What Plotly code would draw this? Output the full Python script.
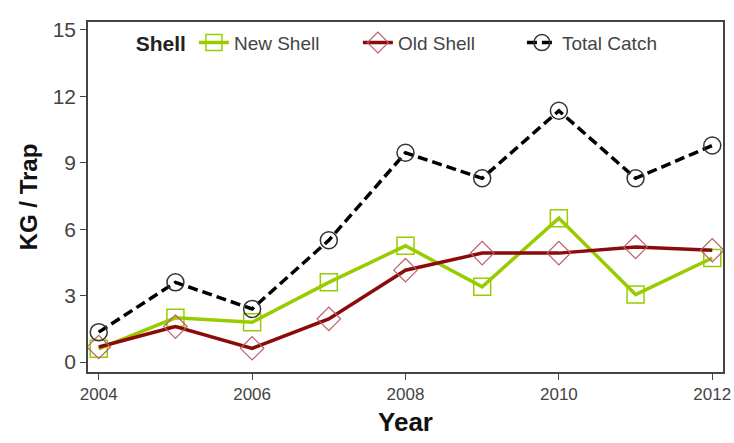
import plotly.graph_objects as go

# Catch per trap by shell condition
years = [2004, 2005, 2006, 2007, 2008, 2009, 2010, 2011, 2012]
new_shell = [0.6, 2.0, 1.8, 3.6, 5.25, 3.4, 6.5, 3.05, 4.7]
old_shell = [0.68, 1.6, 0.62, 1.95, 4.15, 4.92, 4.92, 5.2, 5.05]
total_catch = [1.35, 3.6, 2.4, 5.5, 9.45, 8.3, 11.35, 8.3, 9.78]

fig = go.Figure()

fig.add_trace(go.Scatter(x=years, y=new_shell, name='New Shell', mode='lines+markers',
                         line=dict(color='#99CC00', width=3.5),
                         marker=dict(symbol='square-open', size=17, color='#99CC00', line=dict(width=1.5))))
fig.add_trace(go.Scatter(x=years, y=old_shell, name='Old Shell', mode='lines+markers',
                         line=dict(color='#8B0A0A', width=3.5),
                         marker=dict(symbol='diamond-open', size=18, color='#BC5E68', line=dict(width=1.2))))
fig.add_trace(go.Scatter(x=years, y=total_catch, name='Total Catch', mode='lines+markers',
                         line=dict(color='black', width=3.5, dash='10px,5px'),
                         marker=dict(symbol='circle-open', size=17, color='#333333', line=dict(width=1.5))))

fig.update_layout(width=734, height=443, template='plotly_white', font_family='Arial',
                  plot_bgcolor='white', paper_bgcolor='white',
                  margin=dict(l=88, r=11, t=22, b=71, autoexpand=False),
                  legend=dict(orientation='h', x=0.072, y=0.995, xanchor='left', yanchor='top',
                              title=dict(text='<b>Shell</b>', font=dict(size=21, color='#222222')),
                              font=dict(size=19, color='#444444'), bgcolor='rgba(0,0,0,0)',
                              entrywidth=119, tracegroupgap=0))

fig.update_xaxes(range=[2003.86, 2012.14], tickvals=[2004, 2006, 2008, 2010, 2012],
                 showgrid=False, zeroline=False, showline=True, linecolor='#444444', linewidth=1.5, mirror=True,
                 ticks='outside', ticklen=6, tickcolor='#444444', ticklabeloverflow='allow',
                 tickfont=dict(size=17, color='#444444'), automargin=False,
                 title=dict(text='<b>Year</b>', font=dict(size=26, color='#111111'), standoff=10))
fig.update_yaxes(range=[-0.45, 15.36], tickvals=[0, 3, 6, 9, 12, 15],
                 showgrid=False, zeroline=False, showline=True, linecolor='#444444', linewidth=1.5, mirror=True,
                 ticks='outside', ticklen=6, tickcolor='#444444', automargin=False,
                 tickfont=dict(size=21, color='#444444'),
                 title=dict(text='<b>KG / Trap</b>', font=dict(size=24, color='#111111'), standoff=8))

fig.write_html("out.html", config={'displayModeBar': False},
               post_script="document.body.style.margin='0px';")
